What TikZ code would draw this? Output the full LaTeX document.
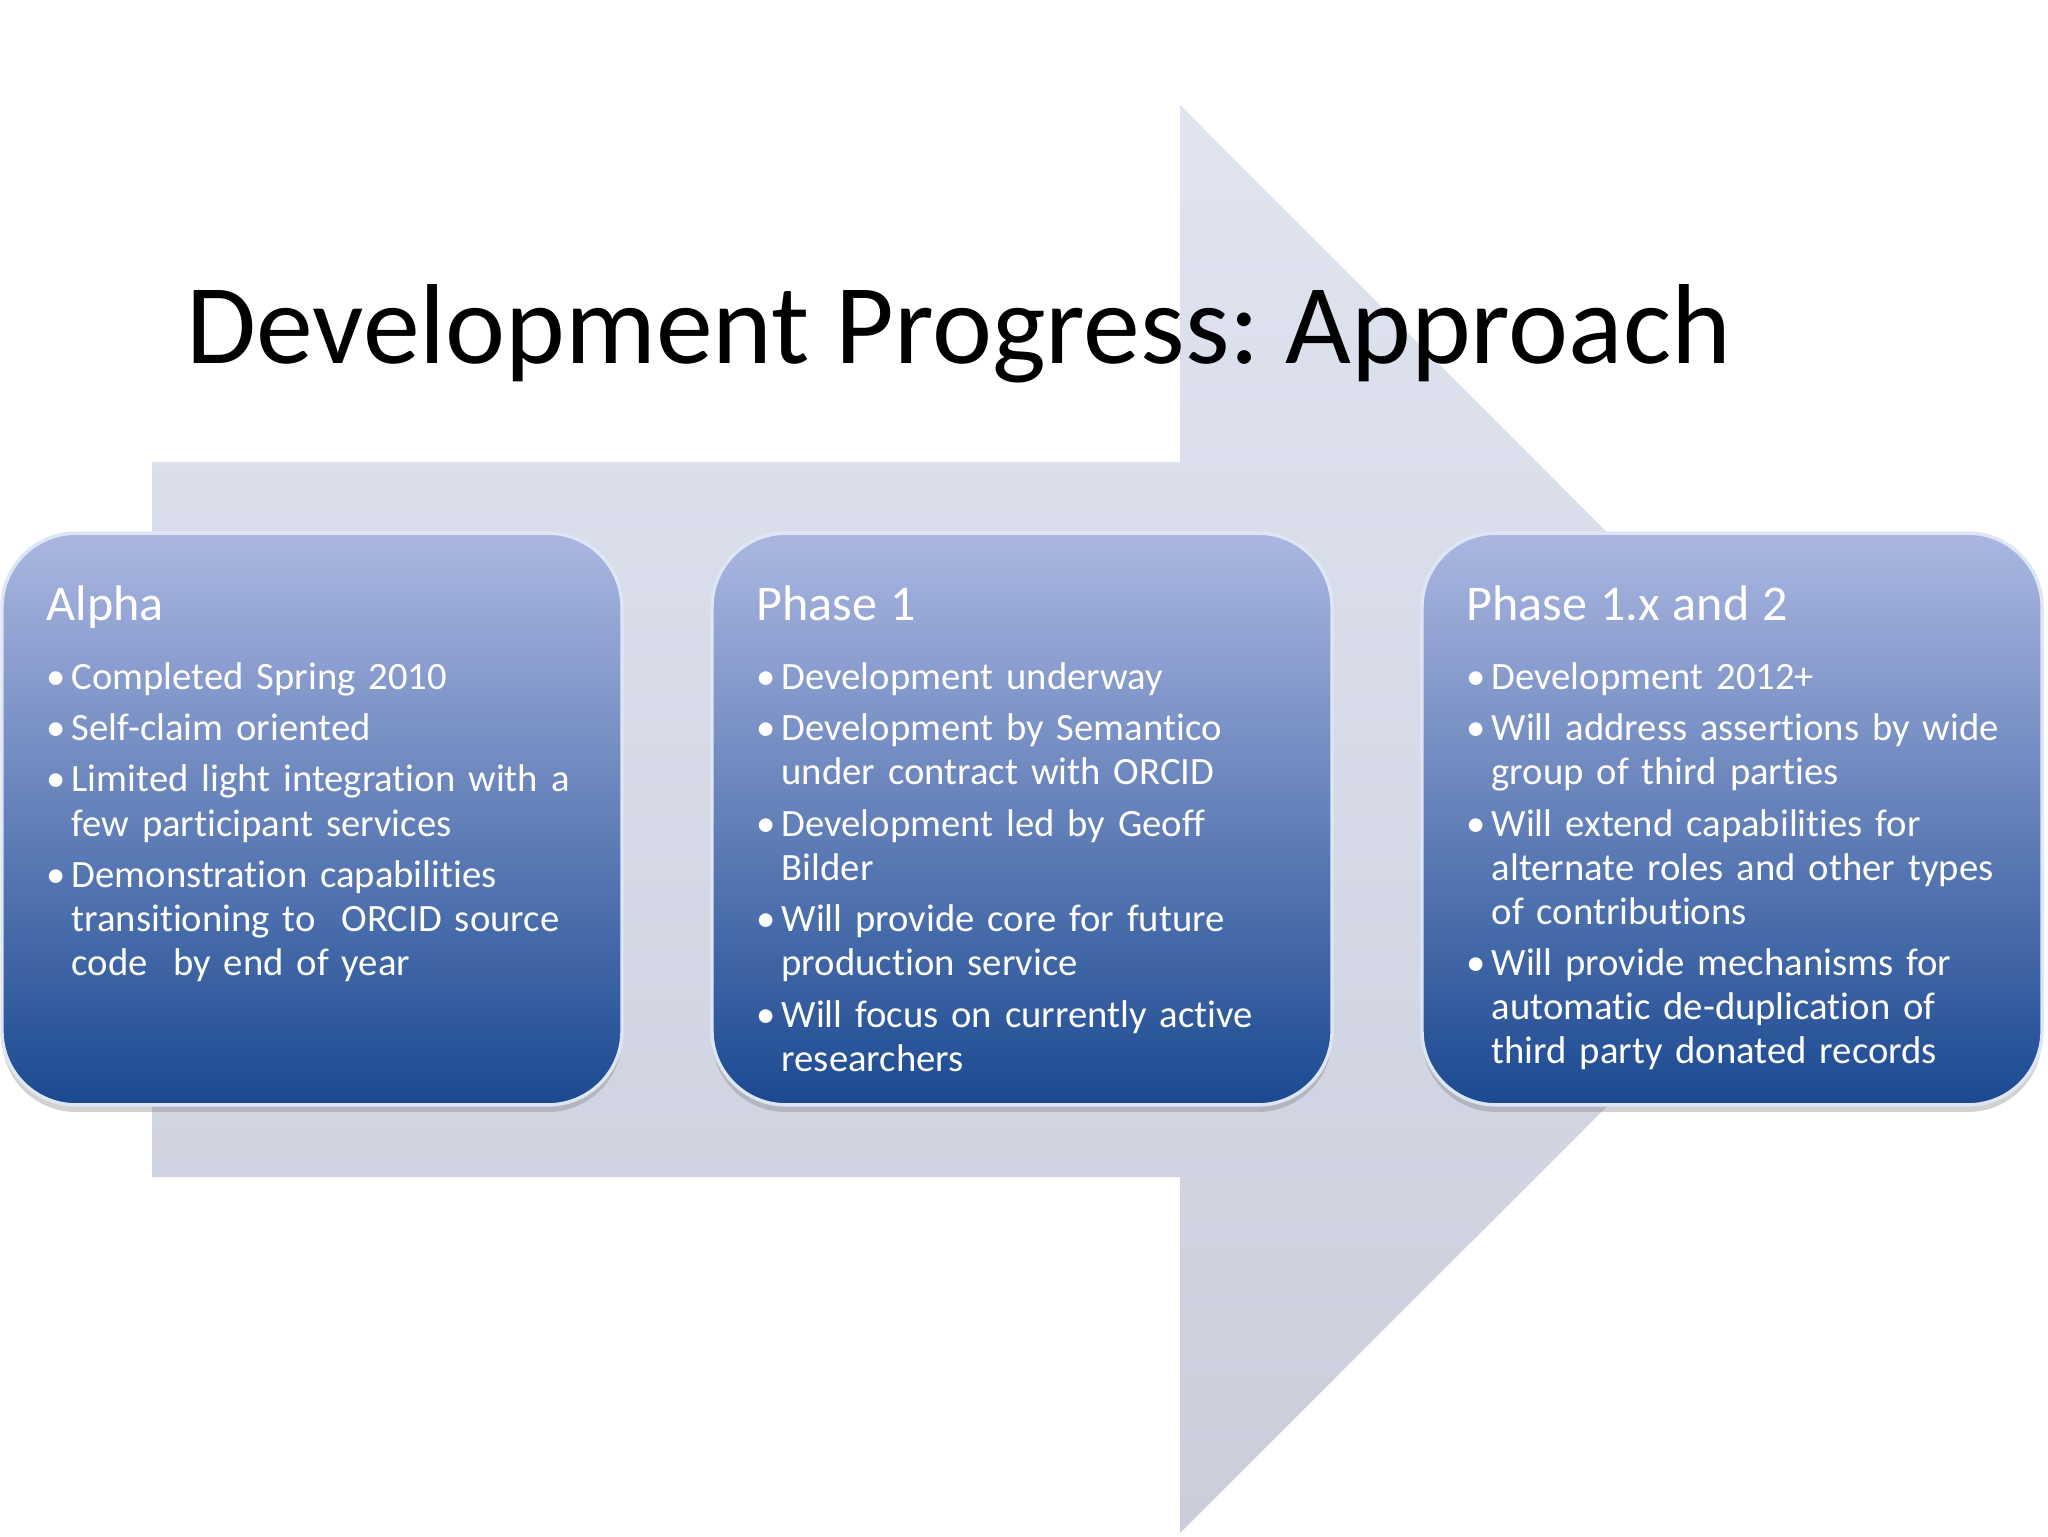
\documentclass[tikz,border=0pt]{standalone}
\usepackage{fontspec}
\setmainfont{Carlito}[Ligatures=NoCommon]
\usetikzlibrary{shadows}
\frenchspacing

\definecolor{arrowtop}{RGB}{224,228,241}
\definecolor{arrowbot}{RGB}{203,205,219}
\definecolor{boxtop}{RGB}{171,183,225}
\definecolor{boxbot}{RGB}{27,73,145}
\definecolor{boxrim}{RGB}{222,230,246}

\newcommand{\phasehead}[1]{{\fontsize{17.6}{21}\selectfont #1\par}\vspace{6.1pt}}
\newcommand{\pitem}[1]{\par\vspace{2.6pt}\hangindent=8.8pt\hangafter=1\noindent\makebox[8.8pt][l]{\textbullet}#1}

\tikzset{
  phasebox/.style={rectangle, rounded corners=26pt, minimum width=218pt, minimum height=201pt,
    outer sep=0pt, inner sep=0pt, top color=boxtop, bottom color=boxbot, draw=boxrim, line width=1.2pt,
    drop shadow={shadow xshift=0pt, shadow yshift=-2.5pt, opacity=0.35}},
  phasetext/.style={anchor=base west, inner sep=0pt, text width=200pt, text=white,
    font=\fontsize{13.6}{15.5}\selectfont},
}

\begin{document}
\begin{tikzpicture}[x=0.3516pt, y=-0.3516pt]
\useasboundingbox (0,0) rectangle (2048,1536);
\fill[white] (0,0) rectangle (2048,1536);

\shade[top color=arrowtop, bottom color=arrowbot] (152,462) -- (1180,462) -- (1180,105) -- (1894,819.5)
  -- (1180,1533) -- (1180,1177) -- (152,1177) -- cycle;

\node[anchor=base west, inner sep=0pt, font=\fontsize{40}{48}\selectfont] (title) at (186,363) {Development Progress: Approach};

\node[phasebox] (alpha) at (312,819) {};
\node[phasebox] (phase1) at (1022,819) {};
\node[phasebox] (phase2) at (1732,819) {};

\node[phasetext] (alphatext) at ([xshift=15.5pt, yshift=-30.6pt]alpha.north west) {%
\phasehead{Alpha}
\pitem{Completed Spring 2010}
\pitem{Self-claim oriented}
\pitem{Limited light integration with a\newline few participant services}
\pitem{Demonstration capabilities\newline transitioning to\ \ ORCID source\newline code\ \ by end of year}\par};

\node[phasetext] (phase1text) at ([xshift=15.5pt, yshift=-30.6pt]phase1.north west) {%
\phasehead{Phase 1}
\pitem{Development underway}
\pitem{Development by Semantico\newline under contract with ORCID}
\pitem{Development led by Geoff\newline Bilder}
\pitem{Will provide core for future\newline production service}
\pitem{Will focus on currently active\newline researchers}\par};

\node[phasetext] (phase2text) at ([xshift=15.5pt, yshift=-30.6pt]phase2.north west) {%
\phasehead{Phase 1.x and 2}
\pitem{Development 2012+}
\pitem{Will address assertions by wide\newline group of third parties}
\pitem{Will extend capabilities for\newline alternate roles and other types\newline of contributions}
\pitem{Will provide mechanisms for\newline automatic de-duplication of\newline third party donated records}\par};
\end{tikzpicture}
\end{document}
